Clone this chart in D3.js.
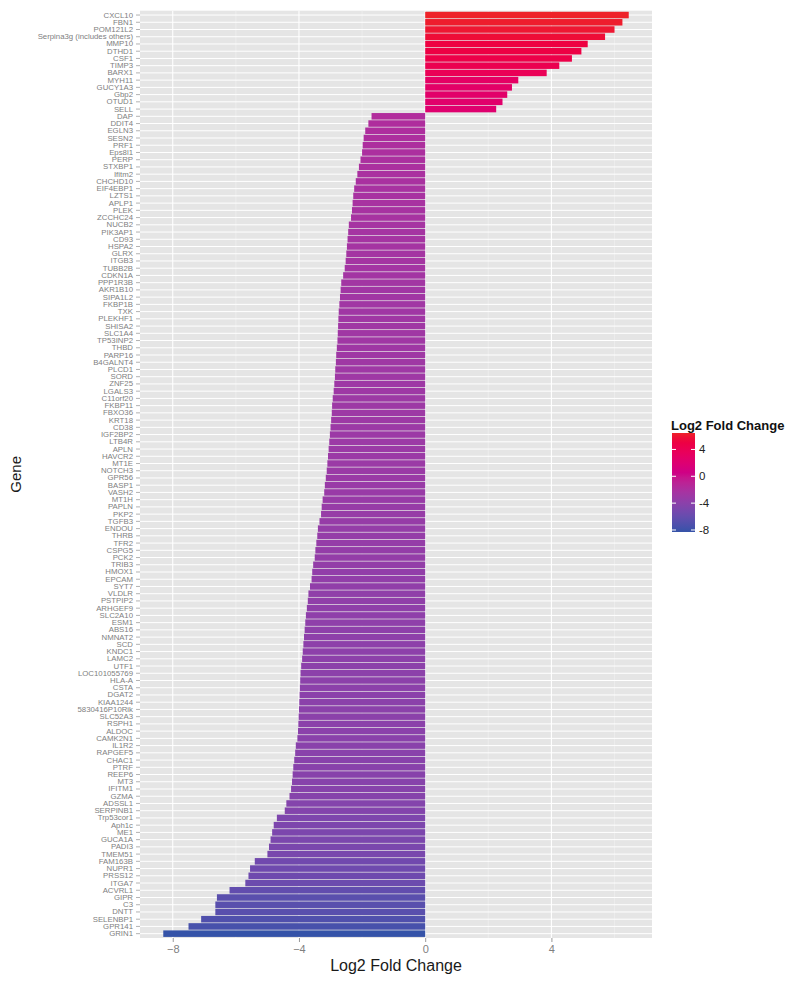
<!DOCTYPE html>
<html>
<head>
<meta charset="utf-8">
<script src="https://cdn.jsdelivr.net/npm/d3@7"></script>
<style>
  html, body { margin: 0; padding: 0; background: #ffffff; }
  svg { display: block; font-family: "Liberation Sans", Arial, Helvetica, sans-serif; }
</style>
</head>
<body>
<svg id="chart" width="795" height="983"></svg>
<script>
// ---------------- DATA ----------------
const genes = [
  "CXCL10","FBN1","POM121L2","Serpina3g (includes others)","MMP10","DTHD1","CSF1","TIMP3","BARX1","MYH11","GUCY1A3","Gbp2",
  "OTUD1","SELL","DAP","DDIT4","EGLN3","SESN2","PRF1","Eps8l1","PERP","STXBP1","Ifitm2","CHCHD10","EIF4EBP1",
  "LZTS1","APLP1","PLEK","ZCCHC24","NUCB2","PIK3AP1","CD93","HSPA2","GLRX","ITGB3","TUBB2B","CDKN1A","PPP1R3B",
  "AKR1B10","SIPA1L2","FKBP1B","TXK","PLEKHF1","SHISA2","SLC1A4","TP53INP2","THBD","PARP16","B4GALNT4","PLCD1",
  "SORD","ZNF25","LGALS3","C11orf20","FKBP11","FBXO36","KRT18","CD38","IGF2BP2","LTB4R","APLN","HAVCR2","MT1E",
  "NOTCH3","GPR56","BASP1","VASH2","MT1H","PAPLN","PKP2","TGFB3","ENDOU","THRB","TFR2","CSPG5","PCK2",
  "TRIB3","HMOX1","EPCAM","SYT7","VLDLR","PSTPIP2","ARHGEF9","SLC2A10","ESM1","ABS16","NMNAT2","SCD",
  "KNDC1","LAMC2","UTF1","LOC101055769","HLA-A","CSTA","DGAT2","KIAA1244","5830416P10Rik","SLC52A3","RSPH1","ALDOC","CAMK2N1",
  "IL1R2","RAPGEF5","CHAC1","PTRF","REEP6","MT3","IFITM1","GZMA","ADSSL1","SERPINB1","Trp53cor1","Aph1c","ME1",
  "GUCA1A","PADI3","TMEM51","FAM163B","NUPR1","PRSS12","ITGA7","ACVRL1","GIPR","C3","DNTT","SELENBP1","GPR141","GRIN1"
];

const log2fc = [
  6.45, 6.25, 6.0, 5.7, 5.15, 4.95, 4.65, 4.25, 3.85, 2.95, 2.75, 2.6,
  2.45, 2.25, -1.7, -1.8, -1.9, -1.95, -1.98, -2.0, -2.05, -2.1, -2.15, -2.2, -2.25,
  -2.28, -2.3, -2.32, -2.35, -2.42, -2.44, -2.46, -2.48, -2.5, -2.52, -2.55, -2.6, -2.66,
  -2.68, -2.7, -2.72, -2.74, -2.75, -2.76, -2.77, -2.78, -2.8, -2.82, -2.83, -2.85,
  -2.86, -2.88, -2.9, -2.93, -2.95, -2.96, -2.98, -3.0, -3.02, -3.04, -3.06, -3.08, -3.1,
  -3.12, -3.15, -3.18, -3.2, -3.25, -3.28, -3.3, -3.35, -3.4, -3.42, -3.45, -3.48, -3.5,
  -3.55, -3.58, -3.6, -3.65, -3.7, -3.72, -3.75, -3.78, -3.8, -3.82, -3.84, -3.86,
  -3.88, -3.9, -3.93, -3.95, -3.96, -3.97, -3.98, -3.99, -4.0, -4.01, -4.02, -4.03, -4.05,
  -4.1, -4.12, -4.15, -4.18, -4.2, -4.22, -4.25, -4.3, -4.4, -4.45, -4.7, -4.8, -4.85,
  -4.9, -4.95, -5.0, -5.4, -5.55, -5.6, -5.7, -6.2, -6.6, -6.65, -6.65, -7.1, -7.5, -8.3
];

const xTicks = [-8, -4, 0, 4];
const xMinorTicks = [-6, -2, 2, 6];
const legendTicks = [4, 0, -4, -8];

// ---------------- LAYOUT ----------------
const svg = d3.select("#chart");
const panel = { left: 140, right: 652, top: 10.7, bottom: 938 };

const data = genes.map((g, i) => ({ gene: g, value: log2fc[i] }));

const ext = d3.extent(log2fc);
const span = ext[1] - ext[0];
const x = d3.scaleLinear()
  .domain([ext[0] - 0.05 * span, ext[1] + 0.05 * span])
  .range([panel.left, panel.right]);

const y = d3.scaleBand()
  .domain(genes)
  .range([panel.top, panel.bottom])
  .paddingInner(0.1)
  .paddingOuter(0.15);

const color = d3.scaleLinear()
  .domain(ext)
  .range(["#3553a8", "#ee2229"])
  .interpolate(d3.interpolateHcl);

// panel background
svg.append("rect")
  .attr("x", panel.left).attr("y", panel.top)
  .attr("width", panel.right - panel.left)
  .attr("height", panel.bottom - panel.top)
  .attr("fill", "#e5e5e5");

// minor vertical grid
svg.append("g").selectAll("line").data(xMinorTicks).join("line")
  .attr("x1", d => x(d)).attr("x2", d => x(d))
  .attr("y1", panel.top).attr("y2", panel.bottom)
  .attr("stroke", "#f2f2f2").attr("stroke-width", 0.6);

// major vertical grid
svg.append("g").selectAll("line").data(xTicks).join("line")
  .attr("x1", d => x(d)).attr("x2", d => x(d))
  .attr("y1", panel.top).attr("y2", panel.bottom)
  .attr("stroke", "#ffffff").attr("stroke-width", 1.1);

// horizontal grid (one per gene)
svg.append("g").selectAll("line").data(genes).join("line")
  .attr("x1", panel.left).attr("x2", panel.right)
  .attr("y1", d => y(d) + y.bandwidth() / 2)
  .attr("y2", d => y(d) + y.bandwidth() / 2)
  .attr("stroke", "#ffffff").attr("stroke-width", 1);

// bars
svg.append("g").selectAll("rect").data(data).join("rect")
  .attr("x", d => x(Math.min(0, d.value)))
  .attr("width", d => Math.abs(x(d.value) - x(0)))
  .attr("y", d => y(d.gene))
  .attr("height", y.bandwidth())
  .attr("fill", d => color(d.value));

// y axis
const yAxis = d3.axisLeft(y).tickSize(4).tickPadding(3);
const gy = svg.append("g")
  .attr("transform", `translate(${panel.left},0)`)
  .call(yAxis);
gy.select(".domain").remove();
gy.selectAll(".tick line").attr("stroke", "#7f7f7f").attr("stroke-width", 0.6);
gy.selectAll(".tick text")
  .attr("fill", "#808080")
  .style("font-size", "7.8px")
  .style("font-family", "'Liberation Sans', Arial, sans-serif");

// x axis
const xAxis = d3.axisBottom(x).tickValues(xTicks).tickSize(4).tickPadding(3)
  .tickFormat(d3.format("d"));
const gx = svg.append("g")
  .attr("transform", `translate(0,${panel.bottom})`)
  .call(xAxis);
gx.select(".domain").remove();
gx.selectAll(".tick line").attr("stroke", "#7f7f7f").attr("stroke-width", 0.8);
gx.selectAll(".tick text")
  .attr("fill", "#7f7f7f")
  .style("font-size", "11px")
  .style("font-family", "'Liberation Sans', Arial, sans-serif");

// axis titles
svg.append("text")
  .attr("x", (panel.left + panel.right) / 2)
  .attr("y", 971)
  .attr("text-anchor", "middle")
  .attr("fill", "#1a1a1a")
  .style("font-size", "16px")
  .text("Log2 Fold Change");

svg.append("text")
  .attr("transform", `translate(21,${(panel.top + panel.bottom) / 2}) rotate(-90)`)
  .attr("text-anchor", "middle")
  .attr("fill", "#1a1a1a")
  .style("font-size", "15px")
  .text("Gene");

// ---------------- LEGEND ----------------
const leg = { x: 672, w: 23, top: 433, bottom: 532 };
const ly = d3.scaleLinear()
  .domain(color.domain())
  .range([leg.bottom, leg.top]);

const defs = svg.append("defs");
const grad = defs.append("linearGradient")
  .attr("id", "lfcgrad")
  .attr("x1", "0").attr("y1", "1").attr("x2", "0").attr("y2", "0");
d3.range(0, 1.0001, 0.05).forEach(t => {
  const v = color.domain()[0] + t * (color.domain()[1] - color.domain()[0]);
  grad.append("stop").attr("offset", t).attr("stop-color", color(v));
});

svg.append("text")
  .attr("x", leg.x - 1)
  .attr("y", 430)
  .attr("fill", "#111")
  .style("font-size", "13px")
  .style("font-weight", "bold")
  .text("Log2 Fold Change");

svg.append("rect")
  .attr("x", leg.x).attr("y", leg.top)
  .attr("width", leg.w).attr("height", leg.bottom - leg.top)
  .attr("fill", "url(#lfcgrad)");

const lt = svg.append("g");
lt.selectAll("line.l").data(legendTicks).join("line")
  .attr("x1", leg.x).attr("x2", leg.x + 4)
  .attr("y1", d => ly(d)).attr("y2", d => ly(d))
  .attr("stroke", "#ffffff").attr("stroke-width", 1);
lt.selectAll("line.r").data(legendTicks).join("line")
  .attr("x1", leg.x + leg.w - 4).attr("x2", leg.x + leg.w)
  .attr("y1", d => ly(d)).attr("y2", d => ly(d))
  .attr("stroke", "#ffffff").attr("stroke-width", 1);
lt.selectAll("text").data(legendTicks).join("text")
  .attr("x", leg.x + leg.w + 4)
  .attr("y", d => ly(d))
  .attr("dy", "0.35em")
  .attr("fill", "#222")
  .style("font-size", "11.5px")
  .text(d => d);
</script>
</body>
</html>
